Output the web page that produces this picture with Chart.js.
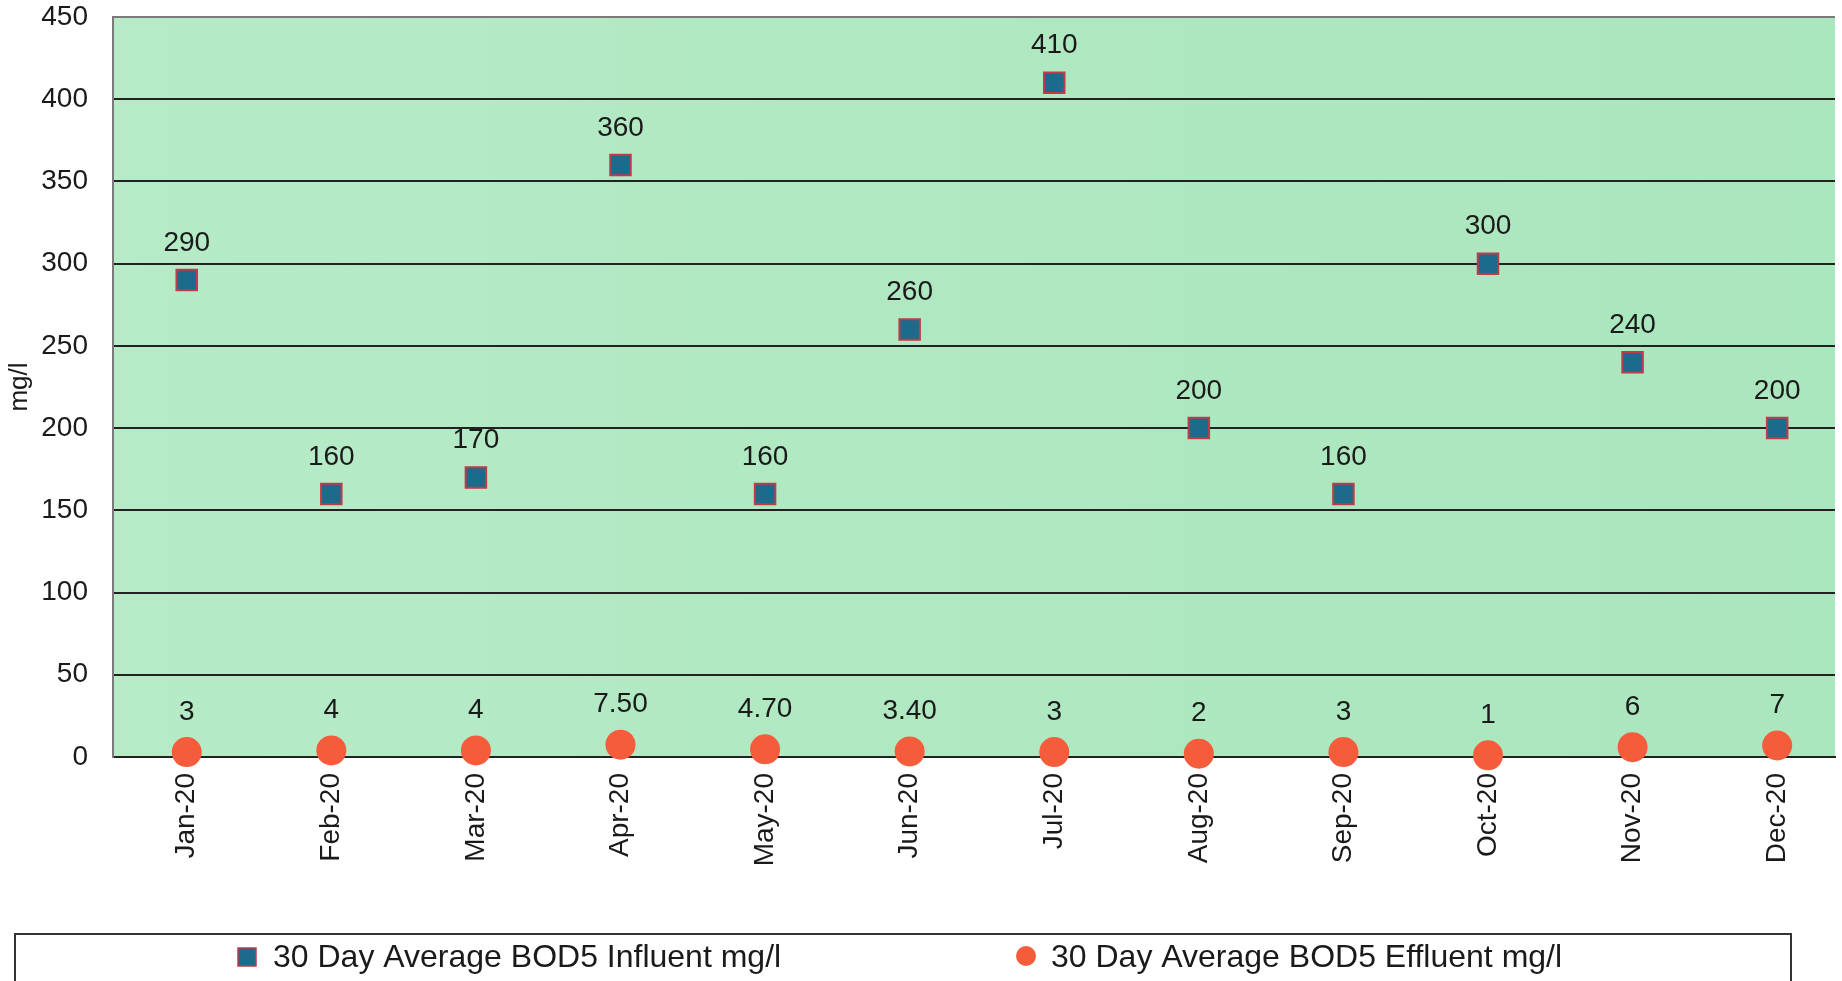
<!DOCTYPE html>
<html>
<head>
<meta charset="utf-8">
<script src="https://cdn.jsdelivr.net/npm/chart.js@4"></script>
<style>
  html, body { margin: 0; padding: 0; background: #fff; }
  #wrap { width: 1842px; height: 981px; }
</style>
</head>
<body>
<div id="wrap"><canvas id="myChart" width="1842" height="981"></canvas></div>
<script>
var months = ["Jan-20", "Feb-20", "Mar-20", "Apr-20", "May-20", "Jun-20", "Jul-20", "Aug-20", "Sep-20", "Oct-20", "Nov-20", "Dec-20"];
var influent = [290, 160, 170, 360, 160, 260, 410, 200, 160, 300, 240, 200];
var effluent = [3, 4, 4, 7.5, 4.7, 3.4, 3, 2, 3, 1, 6, 7];
var effluentText = ["3", "4", "4", "7.50", "4.70", "3.40", "3", "2", "3", "1", "6", "7"];
var yTicks = [0, 50, 100, 150, 200, 250, 300, 350, 400, 450];

var FONT = "'Liberation Sans', Arial, sans-serif";

// green plot background
var bgPlugin = {
    id: 'bg',
    beforeDraw: function(chart) {
        var a = chart.chartArea, c = chart.ctx;
        var g = c.createLinearGradient(a.left, 0, a.right, 0);
        g.addColorStop(0, '#b7ebc8');
        g.addColorStop(0.5, '#afe8c1');
        g.addColorStop(1, '#aae6be');
        c.save();
        c.fillStyle = g;
        c.fillRect(a.left, a.top, a.right - a.left, a.bottom - a.top);
        c.restore();
    }
};

// value labels above the points
var labelPlugin = {
    id: 'vals',
    afterDatasetsDraw: function(chart) {
        var c = chart.ctx;
        c.save();
        c.font = '28px ' + FONT;
        c.fillStyle = '#1a1a1a';
        c.textAlign = 'center';
        c.textBaseline = 'middle';
        chart.getDatasetMeta(0).data.forEach(function(p, i) {
            c.fillText(String(influent[i]), p.x, p.y - 37);
        });
        chart.getDatasetMeta(1).data.forEach(function(p, i) {
            c.fillText(effluentText[i], p.x, p.y - 40);
        });
        c.restore();
    }
};

// boxed legend at the bottom
var legendPlugin = {
    id: 'boxLegend',
    afterDraw: function(chart) {
        var c = chart.ctx;
        c.save();
        c.strokeStyle = '#333';
        c.lineWidth = 2;
        c.strokeRect(15, 934, 1776, 60);
        c.font = '32px ' + FONT;
        c.textBaseline = 'middle';
        // square marker
        c.fillStyle = '#1b6c8c';
        c.fillRect(238, 948, 18, 18);
        c.strokeStyle = '#c03a4a';
        c.lineWidth = 1.5;
        c.strokeRect(238, 948, 18, 18);
        c.fillStyle = '#1a1a1a';
        c.fillText(chart.data.datasets[0].label, 273, 958);
        // circle marker
        c.fillStyle = '#f55c3c';
        c.beginPath();
        c.arc(1026, 956, 10, 0, Math.PI * 2);
        c.fill();
        c.fillStyle = '#1a1a1a';
        c.fillText(chart.data.datasets[1].label, 1051, 958);
        c.restore();
    }
};

var ctx = document.getElementById('myChart').getContext('2d');
var myChart = new Chart(ctx, {
    type: 'line',
    data: {
        datasets: [{
                label: "30 Day Average BOD5 Influent mg/l",
                data: influent.map(function(v, i) { return {x: i, y: v}; }),
                showLine: false,
                clip: false,
                pointStyle: 'rect',
                pointRadius: 14.5,
                pointHoverRadius: 14.5,
                pointBackgroundColor: '#1b6c8c',
                pointBorderColor: '#c03a4a',
                pointBorderWidth: 2,
                borderColor: '#1b6c8c'
            },
            {
                label: "30 Day Average BOD5 Effluent mg/l",
                data: effluent.map(function(v, i) { return {x: i, y: v}; }),
                showLine: false,
                clip: false,
                pointStyle: 'circle',
                pointRadius: 15,
                pointHoverRadius: 15,
                pointBackgroundColor: '#f55c3c',
                pointBorderColor: '#f55c3c',
                pointBorderWidth: 0,
                borderColor: '#f55c3c'
            }
        ]
    },
    options: {
        responsive: false,
        animation: false,
        layout: { autoPadding: false, padding: { top: 17, right: 7, bottom: 0, left: 0 } },
        plugins: {
            legend: { display: false },
            tooltip: { enabled: false }
        },
        scales: {
            x: {
                type: 'linear',
                min: -0.51,
                max: 11.4,
                afterBuildTicks: function(scale) {
                    scale.ticks = months.map(function(m, i) { return {value: i}; });
                },
                afterFit: function(scale) {
                    scale.height = 224;
                    scale.paddingLeft = 0;
                    scale.paddingRight = 0;
                },
                grid: { display: false, drawTicks: false },
                border: { display: true, color: '#222', width: 2 },
                ticks: {
                    autoSkip: false,
                    minRotation: 90,
                    maxRotation: 90,
                    padding: 16,
                    color: '#1a1a1a',
                    font: { family: FONT, size: 28 },
                    callback: function(v) { return months[v]; }
                }
            },
            y: {
                min: 0,
                max: 450,
                afterBuildTicks: function(scale) {
                    scale.ticks = yTicks.map(function(v) { return {value: v}; });
                },
                afterFit: function(scale) {
                    scale.width = 113;
                    scale.paddingTop = 0;
                    scale.paddingBottom = 0;
                },
                grid: {
                    drawTicks: false,
                    color: function(c) { return c.tick.value === 450 ? '#7a7a7a' : '#222'; },
                    lineWidth: 2
                },
                border: { display: true, color: '#7a7a7a', width: 2 },
                ticks: {
                    padding: 25,
                    color: '#1a1a1a',
                    font: { family: FONT, size: 28 }
                },
                title: {
                    display: true,
                    text: 'mg/l',
                    color: '#1a1a1a',
                    font: { family: FONT, size: 26 },
                    padding: { top: 4, bottom: 0 }
                }
            }
        }
    },
    plugins: [bgPlugin, labelPlugin, legendPlugin]
});
</script>
</body>
</html>
